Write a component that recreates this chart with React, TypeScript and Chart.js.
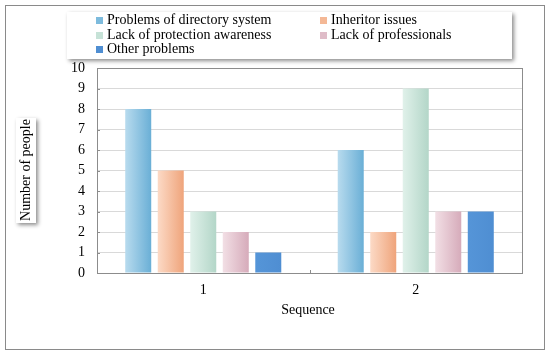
import React, { useEffect, useRef } from "react";
import { Chart, registerables } from "chart.js";

Chart.register(...registerables);

const categories = ["1", "2"];
const seriesNames = [
  "Problems of directory system",
  "Inheritor issues",
  "Lack of protection awareness",
  "Lack of professionals",
  "Other problems",
];
const seriesValues = [
  [8, 6],
  [5, 2],
  [3, 9],
  [2, 3],
  [1, 3],
];
const yTicks = [0, 1, 2, 3, 4, 5, 6, 7, 8, 9, 10];

const gradLeft = ["#b8dbee", "#fcdac6", "#e0f1ea", "#f2dfe5", "#5595d8"];
const gradRight = ["#6aafd6", "#efa47b", "#b3d6c8", "#d6abba", "#4f8ed2"];
const swatch = ["#7dbbdd", "#f4b896", "#c6e2d7", "#dfbcc8", "#4f8ed2"];

const FONT = '"Liberation Serif", "Times New Roman", serif';
const CAT_PCT = 0.765;
const BAR_PCT = 0.8;

export default function App() {
  const ref = useRef<HTMLCanvasElement | null>(null);

  useEffect(() => {
    document.body.style.margin = "0";
    const canvas = ref.current;
    if (!canvas) return;

    const bgFor = (i: number) => (ctx: any) => {
      const chart = ctx.chart;
      const xs = chart.scales && chart.scales.x;
      if (!xs || ctx.dataIndex === undefined || !chart.chartArea) return swatch[i];
      const catW = xs.width / categories.length;
      const groupW = catW * CAT_PCT;
      const slot = groupW / seriesNames.length;
      const center = xs.getPixelForValue(ctx.dataIndex) - groupW / 2 + slot * (i + 0.5);
      const w = slot * BAR_PCT;
      const g = chart.ctx.createLinearGradient(center - w / 2, 0, center + w / 2, 0);
      g.addColorStop(0, gradLeft[i]);
      g.addColorStop(1, gradRight[i]);
      return g;
    };

    const deco = {
      id: "deco",
      beforeDraw(chart: any) {
        const c = chart.ctx;
        c.save();
        c.fillStyle = "#ffffff";
        c.fillRect(0, 0, chart.width, chart.height);
        c.strokeStyle = "#8a8a8a";
        c.lineWidth = 1;
        c.strokeRect(5.5, 5.5, 539, 344);
        c.save();
        c.shadowColor = "rgba(0,0,0,0.45)";
        c.shadowBlur = 4;
        c.shadowOffsetX = 2;
        c.shadowOffsetY = 2;
        c.fillStyle = "#ffffff";
        c.fillRect(67, 12, 445, 47);
        c.restore();
        c.save();
        c.shadowColor = "rgba(0,0,0,0.45)";
        c.shadowBlur = 4;
        c.shadowOffsetX = 2;
        c.shadowOffsetY = 2;
        c.fillStyle = "#ffffff";
        c.fillRect(16, 118, 20, 105);
        c.restore();
        c.restore();
      },
      afterDraw(chart: any) {
        const c = chart.ctx;
        const a = chart.chartArea;
        c.save();
        c.strokeStyle = "#8c8c8c";
        c.lineWidth = 1;
        c.strokeRect(Math.round(a.left) + 0.5, Math.round(a.top) + 0.5, Math.round(a.right - a.left), Math.round(a.bottom - a.top));
        const xs = chart.scales.x;
        const bx = Math.round(xs.getPixelForValue(0.5)) + 0.5;
        c.beginPath();
        c.moveTo(bx, a.bottom - 3);
        c.lineTo(bx, a.bottom);
        c.stroke();
        const ys = chart.scales.y;
        yTicks.forEach((v) => {
          const y = Math.round(ys.getPixelForValue(v)) + 0.5;
          c.beginPath();
          c.moveTo(a.left, y);
          c.lineTo(a.left + 3, y);
          c.stroke();
        });
        c.font = "14px " + FONT;
        c.textBaseline = "middle";
        const colX = [96, 320];
        const rowY = [20, 35, 49.5];
        seriesNames.forEach((name, i) => {
          const col = i % 2;
          const row = Math.floor(i / 2);
          const x = colX[col];
          const y = rowY[row];
          c.fillStyle = swatch[i];
          c.fillRect(x, Math.round(y - 3.5), 7, 7);
          c.fillStyle = "#000000";
          c.textAlign = "left";
          c.fillText(name, x + 11, y);
        });
        c.fillStyle = "#000000";
        c.textAlign = "center";
        c.fillText("Sequence", 308, 310);
        c.save();
        c.translate(26, 170);
        c.rotate(-Math.PI / 2);
        c.textAlign = "center";
        c.fillText("Number of people", 0, 0);
        c.restore();
        c.restore();
      },
    };

    const chart = new Chart(canvas, {
      type: "bar",
      data: {
        labels: categories,
        datasets: seriesNames.map((name, i) => ({
          label: name,
          data: seriesValues[i],
          backgroundColor: bgFor(i),
          borderWidth: 0,
          categoryPercentage: CAT_PCT,
          barPercentage: BAR_PCT,
        })),
      },
      options: {
        animation: false,
        responsive: false,
        devicePixelRatio: 1,
        layout: { padding: { top: 68, right: 28, left: 0, bottom: 0 } },
        plugins: { legend: { display: false }, tooltip: { enabled: false } },
        scales: {
          x: {
            grid: { display: false, drawTicks: false },
            border: { display: false },
            ticks: { color: "#000", font: { family: FONT, size: 14 }, padding: 9 },
            afterFit: (s: any) => {
              s.height = 83;
            },
          },
          y: {
            min: 0,
            max: 10,
            afterBuildTicks: (s: any) => {
              s.ticks = yTicks.map((v) => ({ value: v }));
            },
            grid: { color: "#d9d9d9", drawTicks: false },
            border: { display: false },
            ticks: { color: "#000", font: { family: FONT, size: 14 }, padding: 12, stepSize: 1 },
            afterFit: (s: any) => {
              s.width = 97;
            },
          },
        },
      },
      plugins: [deco],
    });
    return () => chart.destroy();
  }, []);

  return <canvas ref={ref} width={550} height={356} style={{ display: "block" }} />;
}
